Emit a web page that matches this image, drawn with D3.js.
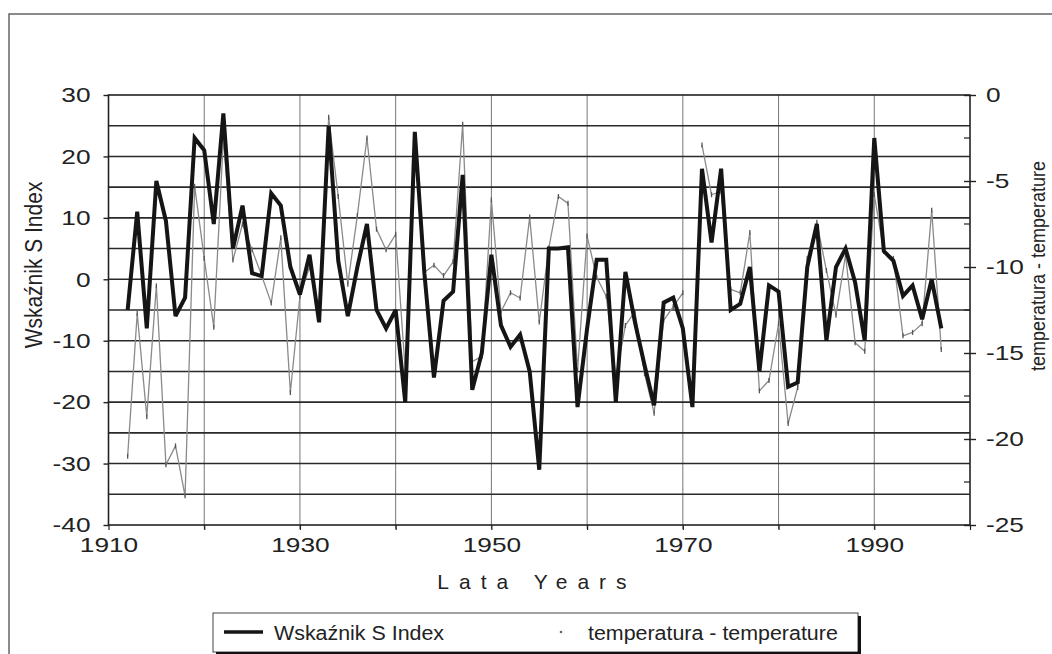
<!DOCTYPE html>
<html>
<head>
<meta charset="utf-8">
<script src="https://cdn.jsdelivr.net/npm/d3@7"></script>
<style>
  body { margin: 0; background: #fff; }
  text { font-family: "Liberation Sans", Arial, sans-serif; fill: #222; }
</style>
</head>
<body>
<div id="chart"></div>
<script>
// years 1912 - 1997
const years = d3.range(1912, 1998);

// Wskaźnik S Index (left axis)
const sIndex = [
  -5, 11, -8, 16, 9.5, -6, -3, 23, 21, 9,        // 1912-1921
  27, 5, 12, 1, 0.5, 14, 12, 2, -2.5, 4,          // 1922-1931
  -7, 25, 3, -6, 2, 9, -5, -8, -5, -20,           // 1932-1941
  24, 1, -16, -3.5, -2, 17, -18, -12, 4, -7.5,    // 1942-1951
  -11, -9, -15, -31, 5, 5, 5.2, -20.8, -8, 3.2,   // 1952-1961
  3.2, -20, 1.2, -7, -14, -20.5, -3.8, -3, -8, -20.8, // 1962-1971
  18, 6, 18, -5, -4, 2, -15, -1, -2, -17.5,       // 1972-1981
  -16.8, 2, 9, -10, 2, 5, -0.5, -10, 23, 4.6,     // 1982-1991
  3, -2.7, -1, -6.5, 0, -8                        // 1992-1997
];

// temperatura - temperature (right axis), null = no reading
const temperature = [
  -21, -12.7, -18.7, -11.1, -21.5, -20.4, -23.3, -5.3, -9.5, -13.5,   // 1912-1921
  -2.5, -9.6, -7.5, -9, -10.5, -12.1, -8.3, -17.3, -11.7, -10,        // 1922-1931
  -12.9, -1.3, -5.9, -11, -7, -2.5, -7.8, -9, -8.1, -16,              // 1932-1941
  -3, -10.3, -9.9, -10.5, -9.7, -1.7, -15.5, -15.2, -6.1, -12.6,      // 1942-1951
  -11.5, -11.8, -7.1, -13.2, -8.9, -5.9, -6.3, -16, -8.2, -10.6,      // 1952-1961
  -11.7, -16.4, -13.4, -12.6, -16.2, -18.5, -13.1, -12.3, -11.5, null,// 1962-1971
  -2.9, -5.8, -5.6, -11.3, -11.5, -8, -17.2, -16.6, -13.3, -19.1,     // 1972-1981
  -17, -9.5, -7.4, -10.2, -12.8, -9.3, -14.4, -14.9, -5.8, -9.1,      // 1982-1991
  -9.5, -14, -13.8, -13.3, -6.7, -14.8                                // 1992-1997
];

const leftTicks = [30, 20, 10, 0, -10, -20, -30, -40];
const rightTicks = [0, -5, -10, -15, -20, -25];
const yearLabels = [1910, 1930, 1950, 1970, 1990];

const width = 1052, height = 654;
const plotLeft = 108.5, plotRight = 970, plotTop = 95, plotBottom = 525;

const svg = d3.select("#chart").append("svg")
  .attr("width", width).attr("height", height);

svg.append("rect").attr("width", width).attr("height", height).attr("fill", "#fff");

// outer frame of the scanned figure (runs off the page)
svg.append("rect")
  .attr("x", 9).attr("y", 14).attr("width", 1100).attr("height", 700)
  .attr("fill", "none").attr("stroke", "#666").attr("stroke-width", 1.5);

const x = d3.scaleLinear().domain([1910, 2000]).range([plotLeft, plotRight]);
const yL = d3.scaleLinear().domain([-40, 30]).range([plotBottom, plotTop]);
const yR = d3.scaleLinear().domain([-25, 0]).range([plotBottom, plotTop]);

// gridlines
svg.append("g").selectAll("line")
  .data(d3.range(1920, 2000, 10))
  .join("line")
  .attr("x1", d => x(d)).attr("x2", d => x(d))
  .attr("y1", plotTop).attr("y2", plotBottom + 4)
  .attr("stroke", "#777").attr("stroke-width", 1);

svg.append("g").selectAll("line")
  .data(d3.range(-35, 30, 5))
  .join("line")
  .attr("x1", plotLeft).attr("x2", plotRight)
  .attr("y1", d => yL(d)).attr("y2", d => yL(d))
  .attr("stroke", "#2a2a2a").attr("stroke-width", 1.6);

// plot box
svg.append("rect")
  .attr("x", plotLeft).attr("y", plotTop)
  .attr("width", plotRight - plotLeft).attr("height", plotBottom - plotTop)
  .attr("fill", "none").attr("stroke", "#222").attr("stroke-width", 1.6);

// stretch glyphs horizontally a bit, the scan is wider than plain Arial
const stretch = (sel, k) => sel.each(function () {
  const w = this.getComputedTextLength();
  d3.select(this).attr("textLength", w * k).attr("lengthAdjust", "spacingAndGlyphs");
});

// plain hyphen for negatives, like the original
const fmt = d => String(d);

// left axis
const axL = svg.append("g")
  .attr("transform", `translate(${plotLeft},0)`)
  .call(d3.axisLeft(yL).tickValues(leftTicks).tickFormat(fmt).tickSize(5).tickPadding(13));
axL.select(".domain").remove();
axL.selectAll("line").attr("stroke", "#222").attr("stroke-width", 1.4);
axL.selectAll("text").attr("font-size", 21).attr("fill", "#222")
  .attr("font-family", "Liberation Sans, Arial, sans-serif").call(stretch, 1.25);

// right axis
const axR = svg.append("g")
  .attr("transform", `translate(${plotRight},0)`)
  .call(d3.axisRight(yR).tickValues(rightTicks).tickFormat(fmt).tickSize(6).tickPadding(10));
axR.select(".domain").remove();
axR.selectAll("line").attr("x1", -6).attr("stroke", "#222").attr("stroke-width", 1.4);
axR.selectAll("text").attr("font-size", 21).attr("fill", "#222")
  .attr("font-family", "Liberation Sans, Arial, sans-serif").call(stretch, 1.25);
// minor ticks
svg.append("g").selectAll("line")
  .data(d3.range(-22.5, 0, 5))
  .join("line")
  .attr("x1", plotRight - 6).attr("x2", plotRight)
  .attr("y1", d => yR(d)).attr("y2", d => yR(d))
  .attr("stroke", "#222").attr("stroke-width", 1.2);

// bottom axis
const axB = svg.append("g")
  .attr("transform", `translate(0,${plotBottom})`)
  .call(d3.axisBottom(x).tickValues(d3.range(1910, 2001, 10)).tickSize(5).tickPadding(7)
    .tickFormat(d => yearLabels.includes(d) ? d : ""));
axB.select(".domain").remove();
axB.selectAll("line").attr("stroke", "#222").attr("stroke-width", 1.2);
axB.selectAll("text").attr("font-size", 21).attr("fill", "#222")
  .attr("font-family", "Liberation Sans, Arial, sans-serif")
  .filter(d => yearLabels.includes(d)).call(stretch, 1.25);

// axis titles
svg.append("text")
  .attr("x", 537).attr("y", 589)
  .attr("text-anchor", "middle")
  .attr("font-size", 21).attr("letter-spacing", "10px")
  .text("Lata Years");

svg.append("text")
  .attr("transform", "translate(42,265) rotate(-90) scale(1,1.15)")
  .attr("text-anchor", "middle").attr("font-size", 21)
  .text("Wskaźnik S Index");

svg.append("text")
  .attr("transform", "translate(1045,266) rotate(-90) scale(1,1.1)")
  .attr("text-anchor", "middle").attr("font-size", 18)
  .text("temperatura - temperature");

// lines
const tempData = years.map((yr, i) => ({ yr, v: temperature[i] }));
const idxData = years.map((yr, i) => ({ yr, v: sIndex[i] }));

const tempLine = d3.line()
  .defined(d => d.v !== null)
  .x(d => x(d.yr)).y(d => yR(d.v));

svg.append("path")
  .datum(tempData)
  .attr("d", tempLine)
  .attr("fill", "none").attr("stroke", "#8a8a8a").attr("stroke-width", 1.3)
  .attr("stroke-linejoin", "round");

// small dash markers of the temperature series
svg.append("g").selectAll("line")
  .data(tempData.filter(d => d.v !== null))
  .join("line")
  .attr("x1", d => x(d.yr)).attr("x2", d => x(d.yr))
  .attr("y1", d => yR(d.v) - 2.5).attr("y2", d => yR(d.v) + 2.5)
  .attr("stroke", "#555").attr("stroke-width", 1.3);

svg.append("path")
  .datum(idxData)
  .attr("d", d3.line().x(d => x(d.yr)).y(d => yL(d.v)))
  .attr("fill", "none").attr("stroke", "#151515").attr("stroke-width", 4)
  .attr("stroke-linejoin", "miter").attr("stroke-miterlimit", 3);

// legend
const lg = svg.append("g");
lg.append("rect")
  .attr("x", 213).attr("y", 613).attr("width", 645).attr("height", 39)
  .attr("fill", "#fff").attr("stroke", "#444").attr("stroke-width", 1);
lg.append("line")
  .attr("x1", 859.5).attr("x2", 859.5).attr("y1", 616).attr("y2", 654)
  .attr("stroke", "#111").attr("stroke-width", 3);
lg.append("line")
  .attr("x1", 216).attr("x2", 861).attr("y1", 653).attr("y2", 653)
  .attr("stroke", "#111").attr("stroke-width", 2);
lg.append("line")
  .attr("x1", 224).attr("x2", 263).attr("y1", 632).attr("y2", 632)
  .attr("stroke", "#151515").attr("stroke-width", 3.5);
lg.append("text").attr("x", 274).attr("y", 640).attr("font-size", 20)
  .text("Wskaźnik S Index").call(stretch, 1.07);
lg.append("circle").attr("cx", 561).attr("cy", 632).attr("r", 1.3).attr("fill", "#666");
lg.append("text").attr("x", 588).attr("y", 640).attr("font-size", 20)
  .text("temperatura - temperature").call(stretch, 1.07);
</script>
</body>
</html>
